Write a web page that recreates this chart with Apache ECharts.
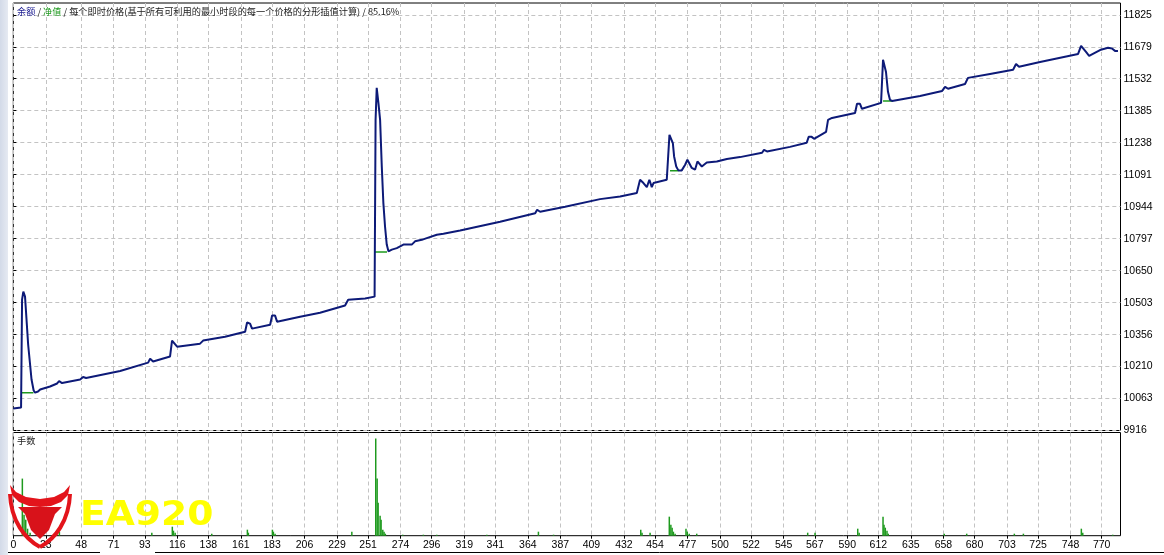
<!DOCTYPE html>
<html><head><meta charset="utf-8">
<script src="https://cdn.jsdelivr.net/npm/echarts@6/dist/echarts.min.js"></script>
<style>html,body{margin:0;padding:0;background:#fff}#c{width:1164px;height:555px}</style>
</head><body><div id="c"></div>
<script>
// ---- tick labels ----
const xTickLabels = [0,23,48,71,93,116,138,161,183,206,229,251,274,296,319,341,364,387,409,432,454,477,500,522,545,567,590,612,635,658,680,703,725,748,770];
const yTickLabels = [9916,10063,10210,10356,10503,10650,10797,10944,11091,11238,11385,11532,11679,11825];

// ---- balance curve (trade number, balance) ----
const tradeIndex = [0,5.5,6.2,7.1,8.3,10.5,12.9,14.4,15.4,17.5,19.0,26.0,31.0,32.4,34.5,47.3,49.4,51.5,75.6,95.4,96.8,98.9,110.9,112.3,113.7,115.9,132.1,134.3,149.8,164.0,165.4,167.5,168.9,181.7,183.1,185.2,186.6,202.9,217.0,234.7,236.9,248.9,255.6,256.3,257.1,258.3,259.5,260.7,261.8,263.0,264.2,265.4,267.8,271.3,276.0,281.9,284.2,289.0,292.5,299.6,304.3,316.1,344.4,369.2,370.6,372.7,390.4,415.1,429.3,441.1,443.4,444.6,445.8,448.2,450.0,451.7,452.9,462.3,463.5,464.2,465.2,466.6,467.5,469.0,470.5,472.9,475.3,476.9,478.3,480.0,482.3,484.0,485.4,487.1,488.2,490.6,497.7,504.8,514.1,529.7,531.1,533.2,549.5,561.3,562.7,564.8,566.5,575.0,576.4,579.2,595.5,596.9,599.0,600.4,613.9,615.3,616.0,617.4,618.8,620.2,621.7,641.5,657.1,659.2,661.3,673.3,675.4,691.0,707.3,709.4,711.5,726.4,753.3,755.4,756.8,758.9,761.1,768.8,774.5,777.3,779.4,781.5];
const balance = [10017,10022,10517,10554,10531,10311,10150,10100,10090,10095,10104,10118,10132,10143,10134,10150,10162,10157,10189,10228,10246,10233,10256,10329,10334,10301,10315,10329,10347,10370,10412,10407,10384,10402,10444,10444,10416,10439,10457,10490,10517,10522,10531,11343,11490,11421,11343,11127,10962,10852,10770,10739,10747,10754,10770,10770,10785,10792,10800,10815,10820,10835,10875,10914,10930,10921,10944,10979,10991,11007,11068,11076,11053,11034,11068,11034,11053,11068,11071,11274,11278,11236,11175,11129,11111,11111,11137,11160,11152,11122,11114,11152,11156,11129,11129,11147,11152,11163,11172,11192,11205,11198,11219,11238,11265,11265,11256,11288,11343,11352,11375,11417,11417,11394,11421,11619,11619,11563,11472,11435,11430,11453,11476,11495,11486,11508,11536,11554,11573,11600,11587,11609,11646,11683,11692,11655,11637,11664,11674,11671,11660,11660];

// ---- equity (visible segments only; '-' = gap) ----
const equityIndex = [6.0,14.2,'-',255.9,264.4,'-',464.6,470.5,'-',615.3,621.7];
const equity = [10089,10089,'-',10736,10736,'-',11109,11109,'-',11430,11430];

// ---- lots per trade ----
const lotIndex = [6.4,7.6,8.8,10.1,11.9,32.6,98.0,112.5,113.3,114.5,140.4,165.6,166.3,183.3,184.0,185.2,239.5,256.4,257.4,258.1,259.5,260.2,261.4,262.3,263.2,275.5,290.1,299.6,335.0,371.5,382.2,443.9,444.8,450.5,464.1,465.2,466.1,467.0,468.2,475.9,476.8,478.2,483.5,562.0,567.2,597.4,598.4,615.3,616.0,616.9,618.1,619.0,658.6,674.5,708.2,714.6,755.6,756.6,777.8];
const lots = [0.57,0.21,0.16,0.07,0.03,0.04,0.03,0.09,0.05,0.03,0.02,0.06,0.03,0.06,0.04,0.02,0.04,0.97,0.57,0.33,0.20,0.16,0.06,0.04,0.02,0.01,0.01,0.01,0.01,0.04,0.01,0.06,0.03,0.03,0.19,0.11,0.08,0.04,0.02,0.07,0.04,0.02,0.02,0.03,0.03,0.07,0.03,0.19,0.11,0.08,0.05,0.02,0.02,0.02,0.02,0.02,0.07,0.03,0.01];

const X_MAX = 783.3, Y_MIN = 9916, Y_MAX = 11880, LOT_MAX = 1.03;
const LEFT = 13.3, RIGHT = 43.5;
const AX_FONT = 'Liberation Sans';

const balData = tradeIndex.map((x, i) => [x, balance[i]]);
const eqData = equityIndex.map((x, i) => x === '-' ? ['-', '-'] : [x, equity[i]]);
const lotData = lotIndex.map((x, i) => [x, lots[i]]);

const dash = { type: [4, 3], color: '#c3c3c3', width: 1 };
const RED = '#e3141b';
const plain = v => String(Math.round(v));

const chart = echarts.init(document.getElementById('c'));
chart.setOption({
  animation: false,
  backgroundColor: '#ffffff',
  grid: [
    { left: LEFT, right: RIGHT, top: 3, height: 427.5, show: true, borderColor: '#000', borderWidth: 1, backgroundColor: '#fff' },
    { left: LEFT, right: RIGHT, top: 432.5, height: 103.2, show: true, borderColor: '#000', borderWidth: 1, backgroundColor: '#fff' }
  ],
  xAxis: [
    { gridIndex: 0, type: 'value', min: 0, max: X_MAX,
      axisLine: { show: false }, axisLabel: { show: false },
      axisTick: { show: false, customValues: xTickLabels },
      splitLine: { show: true, lineStyle: dash } },
    { gridIndex: 1, type: 'value', min: 0, max: X_MAX,
      axisLine: { show: false },
      axisTick: { show: true, length: 3, customValues: xTickLabels, lineStyle: { color: '#000' } },
      axisLabel: { show: true, customValues: xTickLabels, formatter: plain, color: '#000', fontFamily: AX_FONT, fontSize: 10.5, margin: 4 },
      splitLine: { show: true, lineStyle: dash } }
  ],
  yAxis: [
    { gridIndex: 0, type: 'value', position: 'right', min: Y_MIN, max: Y_MAX,
      axisLine: { show: false },
      axisTick: { show: true, length: 3, customValues: yTickLabels, lineStyle: { color: '#000' } },
      axisLabel: { show: true, customValues: yTickLabels, formatter: plain, color: '#000', fontFamily: AX_FONT, fontSize: 10.5, margin: 3 },
      splitLine: { show: true, lineStyle: dash } },
    { gridIndex: 1, type: 'value', min: 0, max: LOT_MAX, show: false, splitLine: { show: false } }
  ],
  series: [
    { name: '净值', type: 'line', xAxisIndex: 0, yAxisIndex: 0, data: eqData, showSymbol: false,
      connectNulls: false, lineStyle: { color: '#1e9a1e', width: 1.5 }, z: 2 },
    { name: '余额', type: 'line', xAxisIndex: 0, yAxisIndex: 0, data: balData, showSymbol: false,
      lineStyle: { color: '#0d1a78', width: 2 }, z: 3 },
    { name: '手数', type: 'bar', xAxisIndex: 1, yAxisIndex: 1, data: lotData, barWidth: 1.5,
      itemStyle: { color: '#1e9a1e' } }
  ],
  graphic: [
    { type: 'rect', shape: { x: 0, y: 0, width: 8, height: 555 }, z: 100,
      style: { fill: { type: 'linear', x: 0, y: 0, x2: 1, y2: 0, colorStops: [{ offset: 0, color: '#d3dae8' }, { offset: 1, color: '#e6eaf2' }] } } },
    { type: 'text', x: 17, y: 7, z: 100,
      style: {
        text: '{b|余额} / {g|净值} / 每个即时价格(基于所有可利用的最小时段的每一个价格的分形插值计算) / 85.16%',
        font: '9.2px "Noto Sans CJK SC"', fill: '#202020',
        rich: {
          b: { fill: '#1a1a90', font: '9.2px "Noto Sans CJK SC"' },
          g: { fill: '#1e9a1e', font: '9.2px "Noto Sans CJK SC"' }
        }
      } },
    { type: 'text', x: 17, y: 436, z: 100,
      style: { text: '手数', font: '9.2px "Noto Sans CJK SC"', fill: '#202020' } },
    // bottom tab strip
    { type: 'line', shape: { x1: 8, y1: 552.5, x2: 100, y2: 552.5 }, style: { stroke: '#000', lineWidth: 1 }, z: 100 },
    { type: 'line', shape: { x1: 155, y1: 552.5, x2: 1164, y2: 552.5 }, style: { stroke: '#000', lineWidth: 1 }, z: 100 },
    // EA920 watermark logo
    { type: 'polygon', z: 110, shape: { points: [[10,485],[12,495],[19,502],[29,506],[40,507],[51,506],[61,502],[68,495],[70,485],[64,492],[54,497],[40,499],[26,497],[16,492]] },
      style: { fill: RED } },
    { type: 'polygon', z: 110, shape: { points: [[18,507],[62,507],[55,514],[49,530],[40,539],[31,530],[25,514]] },
      style: { fill: '#d8121a' } },
    { type: 'bezierCurve', z: 110, shape: { x1: 10, y1: 494, cpx1: 11, cpy1: 521, cpx2: 25, cpy2: 539, x2: 40, y2: 547 },
      style: { fill: null, stroke: RED, lineWidth: 4 } },
    { type: 'bezierCurve', z: 110, shape: { x1: 70, y1: 494, cpx1: 69, cpy1: 521, cpx2: 55, cpy2: 539, x2: 40, y2: 547 },
      style: { fill: null, stroke: RED, lineWidth: 4 } },
    { type: 'text', z: 110, x: 80, y: 500, scaleX: 1.14,
      style: { text: 'EA920', font: 'bold 33px "DejaVu Sans"', fill: '#ffff00' } }
  ]
});
</script>
</body></html>
